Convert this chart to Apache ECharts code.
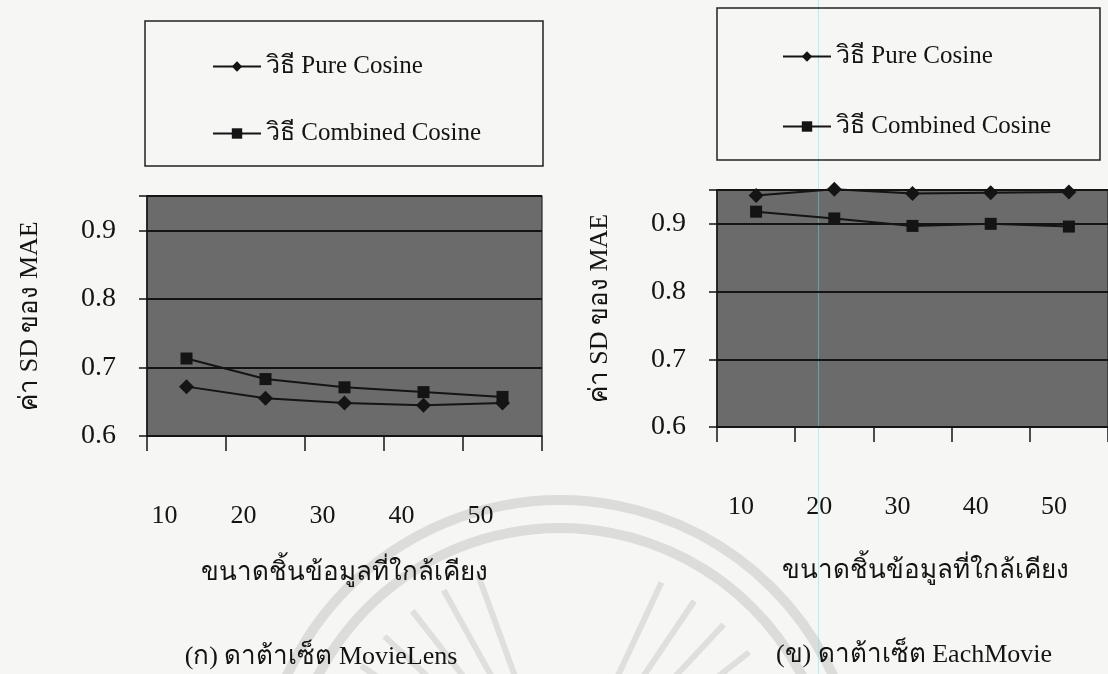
<!DOCTYPE html>
<html>
<head>
<meta charset="utf-8">
<script src="https://cdn.jsdelivr.net/npm/echarts@6/dist/echarts.min.js"></script>
<style>
  html, body { margin: 0; padding: 0; background: #f6f6f4; }
  #chart { width: 1108px; height: 674px; }
</style>
</head>
<body>
<div id="chart"></div>
<script>
// Neighbourhood sizes (x axis categories)
const neighborSizes = ['10', '20', '30', '40', '50'];
// Legend / series names
const seriesNames = ['วิธี Pure Cosine', 'วิธี Combined Cosine'];
// SD of MAE, MovieLens dataset
const movieLensPure = [0.672, 0.655, 0.648, 0.645, 0.648];
const movieLensCombined = [0.713, 0.683, 0.671, 0.664, 0.657];
// SD of MAE, EachMovie dataset
const eachMoviePure = [0.942, 0.951, 0.945, 0.946, 0.947];
const eachMovieCombined = [0.918, 0.908, 0.897, 0.900, 0.896];
// Labelled y ticks
const yTicks = [0.6, 0.7, 0.8, 0.9];
const yTop = 0.95;
// Titles
const yAxisTitle = 'ค่า SD ของ MAE';
const xAxisTitle = 'ขนาดชิ้นข้อมูลที่ใกล้เคียง';
const captions = ['(ก) ดาต้าเซ็ต MovieLens', '(ข) ดาต้าเซ็ต EachMovie'];

const FONT = "'Liberation Serif', 'DejaVu Serif', 'Noto Serif', serif";
const INK = '#141414';
const PLOT_GRAY = '#6b6b6b';

const chart = echarts.init(document.getElementById('chart'), null, { renderer: 'canvas' });

function xAxisFor(gridIndex, labelShift, nameGap, nameShift) {
  return {
    type: 'category',
    gridIndex: gridIndex,
    data: neighborSizes,
    boundaryGap: true,
    axisLine: { show: true, lineStyle: { color: INK, width: 1.5 } },
    axisTick: { show: true, length: 15, alignWithLabel: false, lineStyle: { color: INK, width: 1.5 } },
    axisLabel: {
      margin: 67, color: INK, fontFamily: FONT, fontSize: 26,
      padding: [0, labelShift, 0, 0]
    },
    splitLine: { show: false },
    name: xAxisTitle,
    nameLocation: 'middle',
    nameGap: nameGap,
    nameTextStyle: { color: INK, fontFamily: FONT, fontSize: 26, padding: [0, 0, 0, nameShift] }
  };
}

function yAxisFor(gridIndex) {
  return {
    type: 'value',
    gridIndex: gridIndex,
    min: yTicks[0],
    max: yTop,
    interval: 0.1,
    axisLine: { show: true, lineStyle: { color: INK, width: 1.5 } },
    axisTick: { show: true, length: 8, inside: false, lineStyle: { color: INK, width: 1.5 } },
    axisLabel: {
      margin: 31, color: INK, fontFamily: FONT, fontSize: 28,
      formatter: function (v) {
        const hit = yTicks.find(t => Math.abs(t - v) < 1e-6);
        return hit === undefined ? '' : hit.toFixed(1);
      }
    },
    splitLine: { show: true, lineStyle: { color: INK, width: 2 } },
    name: yAxisTitle,
    nameLocation: 'middle',
    nameGap: 104,
    nameRotate: 90,
    nameTextStyle: { color: INK, fontFamily: FONT, fontSize: 26 }
  };
}

function lineSeries(name, data, idx, symbol, size) {
  return {
    type: 'line',
    name: name,
    data: data,
    xAxisIndex: idx,
    yAxisIndex: idx,
    symbol: symbol,
    symbolSize: size,
    showAllSymbol: true,
    clip: false,
    lineStyle: { color: INK, width: 2 },
    itemStyle: { color: INK, borderWidth: 0 },
    emphasis: { disabled: true },
    z: 5
  };
}

function legendFor(left, top, gap) {
  return {
    orient: 'vertical',
    left: left,
    top: top,
    itemGap: gap,
    itemWidth: 48,
    itemHeight: 13,
    selectedMode: false,
    data: seriesNames,
    textStyle: { color: INK, fontFamily: FONT, fontSize: 25, padding: [0, 0, 0, 0] }
  };
}

// Faint seal printed behind the lower part of the page
const sealCx = 560, sealCy = 800;
const seal = [];
[300, 272].forEach(r => {
  seal.push({
    type: 'arc', silent: true, z: -20,
    shape: { cx: sealCx, cy: sealCy, r: r, startAngle: Math.PI * 1.06, endAngle: Math.PI * 1.94 },
    style: { stroke: '#dcdcda', lineWidth: 10, fill: null }
  });
});
for (let deg = 205; deg <= 335; deg += 9) {
  if (deg > 250 && deg < 290) continue;
  const a = deg * Math.PI / 180;
  seal.push({
    type: 'line', silent: true, z: -20,
    shape: {
      x1: sealCx + 130 * Math.cos(a), y1: sealCy + 130 * Math.sin(a),
      x2: sealCx + 240 * Math.cos(a), y2: sealCy + 240 * Math.sin(a)
    },
    style: { stroke: '#dfdfdd', lineWidth: 6 }
  });
}

const option = {
  animation: false,
  backgroundColor: '#f6f6f4',
  textStyle: { fontFamily: FONT },
  grid: [
    { left: 147, top: 196, width: 395, height: 240, show: true,
      backgroundColor: PLOT_GRAY, borderColor: '#2a2a2a', borderWidth: 1.2 },
    { left: 717, top: 190, width: 395, height: 237, show: true,
      backgroundColor: PLOT_GRAY, borderColor: '#2a2a2a', borderWidth: 1.2 }
  ],
  xAxis: [xAxisFor(0, 44, 124, 0), xAxisFor(1, 30, 131, 26)],
  yAxis: [yAxisFor(0), yAxisFor(1)],
  legend: [legendFor(207, 49, 42), legendFor(777, 39, 45)],
  series: [
    lineSeries(seriesNames[0], movieLensPure, 0, 'diamond', 15),
    lineSeries(seriesNames[1], movieLensCombined, 0, 'rect', 12),
    lineSeries(seriesNames[0], eachMoviePure, 1, 'diamond', 15),
    lineSeries(seriesNames[1], eachMovieCombined, 1, 'rect', 12)
  ],
  graphic: [
    ...seal,
    // faint vertical streak across the right panel
    { type: 'line', silent: true, z: 0, shape: { x1: 818.5, y1: 0, x2: 818.5, y2: 674 },
      style: { stroke: 'rgba(140,210,215,0.45)', lineWidth: 1 } },
    // legend frames
    { type: 'rect', silent: true, z: 1, shape: { x: 145, y: 21, width: 398, height: 145 },
      style: { fill: null, stroke: '#222', lineWidth: 1.5 } },
    { type: 'rect', silent: true, z: 1, shape: { x: 717, y: 8, width: 383, height: 152 },
      style: { fill: null, stroke: '#222', lineWidth: 1.5 } },
    // panel captions
    { type: 'text', silent: true, z: 10, x: 321, y: 657,
      style: { text: captions[0], fill: INK, font: "26px " + FONT, align: 'center', verticalAlign: 'middle' } },
    { type: 'text', silent: true, z: 10, x: 914, y: 655,
      style: { text: captions[1], fill: INK, font: "26px " + FONT, align: 'center', verticalAlign: 'middle' } }
  ]
};

chart.setOption(option);
</script>
</body>
</html>
